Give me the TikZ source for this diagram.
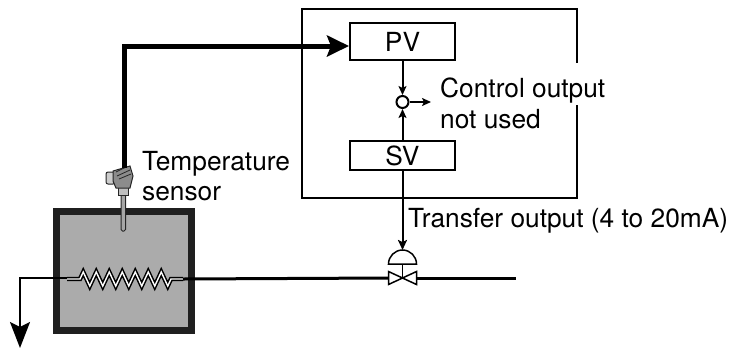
\documentclass[tikz,border=0pt]{standalone}
\usepackage{fontspec}
\setmainfont{TeX Gyre Heros}
\usetikzlibrary{arrows.meta}
\begin{document}
\begin{tikzpicture}[x=1pt,y=-1pt,
  txt/.style={font=\fontsize{26.3}{31}\selectfont},
  lbl/.style={txt,anchor=base west,inner sep=0pt},
  valbox/.style={txt,draw,line width=2pt,rectangle,minimum width=105pt,inner sep=0pt},
  frame/.style={draw,line width=2pt,rectangle,minimum width=275pt,minimum height=189pt,inner sep=0pt},
  sig/.style={line width=2pt,-{Stealth[length=9pt,width=8pt,inset=2pt]}},
  thicksig/.style={line width=5pt,-{Stealth[length=22pt,width=21pt,inset=4pt]}},
  tube/.style={line width=1.5pt,double=white,double distance=1.4pt},
  valvepart/.style={draw,line width=1.5pt,fill=white},
  sensorpart/.style={draw=black!85,line width=1pt}
]
\useasboundingbox (0,0) rectangle (736,349);

% controller frame
\node[frame] (ctrl) at (439.5,103.5) {};
\node[valbox,minimum height=37pt] (PV) at (402.5,41.5) {PV};
\node[valbox,minimum height=29pt] (SV) at (402.5,155.5) {SV};
\node[draw,circle,line width=2pt,minimum size=12pt,inner sep=0pt] (sum) at (402.5,102) {};
\coordinate (co) at (431,102);
\draw[sig] (PV.south) -- (sum.north);
\draw[sig] (SV.north) -- (sum.south);
\draw[sig] (sum.east) -- (co);
\node[lbl,fill=white,text height=34pt,text depth=8pt] (colab) at (440,97) {Control output};
\node[lbl] (nulab) at (440,128) {not used};

% tank
\draw[line width=7pt,draw=black!88,fill=black!33] (56.5,211.5) rectangle (191.5,330.5);

% coil
\coordinate (cl) at (67,279);
\coordinate (cr) at (183,279);
\draw[tube] (cl) -- (80,279) -- (83.25,272) -- (89.75,286) -- (96.25,272) -- (102.75,286)
  -- (109.25,272) -- (115.75,286) -- (122.25,272) -- (128.75,286) -- (135.25,272)
  -- (141.75,286) -- (148.25,272) -- (154.75,286) -- (161.25,272) -- (167.75,286)
  -- (171,279) -- (cr);

% outlet pipe
\coordinate (outlet) at (20,348);
\draw[line width=2pt,-{Stealth[length=26pt,width=20pt,inset=5pt]}] (67,278) -| (outlet);

% valve
\coordinate (valvetop) at (402.5,250);
\coordinate (vl) at (388.5,278);
\coordinate (vr) at (416.5,278);
\coordinate (pipeend) at (516,278);
\draw[line width=3pt] (cr) -- (vl);
\draw[line width=3pt] (vr) -- (pipeend);
\draw[line width=1.5pt] (402.5,264) -- (402.5,278);
\draw[valvepart] (388.5,264) .. controls (388.5,256.3) and (394.8,250) .. (402.5,250)
  .. controls (410.2,250) and (416.5,256.3) .. (416.5,264) -- cycle;
\draw[valvepart,line join=miter] (388.5,271.5) -- (416.5,284.5) -- (416.5,271.5) -- (388.5,284.5) -- cycle;
\draw[sig,-{Stealth[length=10pt,width=9pt,inset=2pt]}] (SV.south) -- (valvetop);
\node[lbl] (tlab) at (408,227) {Transfer output (4 to 20mA)};

% sensor
\draw[sensorpart,fill=black!35,rounded corners=1.5pt] (121,193) rectangle (125.5,231);
\draw[sensorpart,fill=black!25] (118,187) rectangle (128.5,195);
\draw[sensorpart,fill=black!20,rounded corners=2pt] (106,172) rectangle (115,184);
\draw[sensorpart,fill=black!45] (113,171) -- (130,166) -- (133,176) -- (130,188) -- (116,188) -- (113,181) -- cycle;
\draw[black!85,line width=0.8pt] (116,172) -- (126,167) (117,176) -- (130,170) (119,179) -- (131,174);
\coordinate (sensortop) at (124,168);
\draw[thicksig] (sensortop) |- ([yshift=-4.5pt]PV.west);

\node[lbl] (s1) at (142,170) {Temperature};
\node[lbl] (s2) at (142,200) {sensor};
\end{tikzpicture}
\end{document}
